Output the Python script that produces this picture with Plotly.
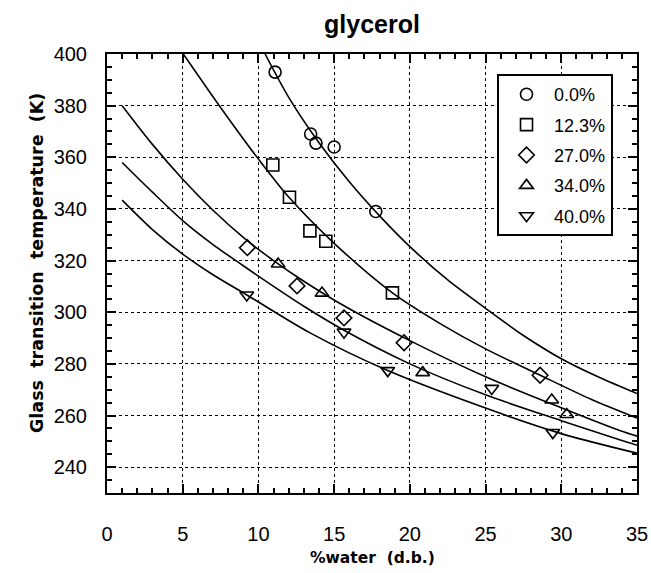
import plotly.graph_objects as go

# ---- data ----
series_names = ["0.0%", "12.3%", "27.0%", "34.0%", "40.0%"]
series_symbols = ["circle-open", "square-open", "diamond-open", "triangle-up-open", "triangle-down-open"]

pts_0_x = [11.1, 13.45, 13.8, 15.0, 17.75]
pts_0_y = [393.0, 369.0, 365.5, 364.0, 339.0]
pts_12_x = [10.95, 12.05, 13.4, 14.45, 18.85]
pts_12_y = [357.0, 344.5, 331.5, 327.5, 307.5]
pts_27_x = [9.27, 12.55, 15.65, 19.62, 28.6]
pts_27_y = [325.0, 310.2, 297.8, 288.2, 275.6]
pts_34_x = [11.3, 14.2, 20.85, 29.37, 30.36]
pts_34_y = [318.7, 307.4, 276.6, 266.0, 260.4]
pts_40_x = [9.23, 15.65, 18.54, 25.41, 29.44]
pts_40_y = [306.7, 292.3, 277.4, 270.5, 253.4]

# fitted curves, read as points along each drawn line
fit_0_x = [10.44, 12, 14, 16, 18, 20, 22.5, 25, 27.5, 30, 32.5, 35]
fit_0_y = [400.0, 383.2, 365.6, 350.5, 337.3, 325.4, 312.5, 301.5, 291.0, 282.0, 274.8, 268.5]
fit_12_x = [5.04, 7.5, 10, 12, 15, 18.85, 22, 25, 28.6, 32, 35]
fit_12_y = [400.0, 379.3, 359.3, 344.6, 326.7, 307.5, 295.6, 285.8, 275.6, 266.2, 259.0]
fit_27_x = [1, 3, 5, 7, 9, 11, 13, 15.65, 20, 25, 30, 33.9, 35]
fit_27_y = [380.0, 365.0, 351.5, 339.5, 329.0, 320.0, 312.0, 302.5, 289.0, 275.0, 263.0, 254.1, 252.0]
fit_34_x = [1, 3, 5, 7, 9, 11, 13, 15.65, 20, 25, 30, 33.9, 35]
fit_34_y = [358.0, 346.5, 335.5, 326.2, 318.0, 310.0, 302.3, 293.0, 280.0, 268.0, 258.0, 250.5, 248.5]
fit_40_x = [1, 3, 5, 7, 9.29, 13.41, 18.54, 25.41, 30, 33.9, 35]
fit_40_y = [343.4, 332.0, 322.5, 314.5, 306.5, 292.0, 277.4, 262.0, 253.0, 247.0, 245.5]

x_ticks = [0, 5, 10, 15, 20, 25, 30, 35]
y_ticks = [240, 260, 280, 300, 320, 340, 360, 380, 400]

points = [(pts_0_x, pts_0_y), (pts_12_x, pts_12_y), (pts_27_x, pts_27_y),
          (pts_34_x, pts_34_y), (pts_40_x, pts_40_y)]
fits = [(fit_0_x, fit_0_y), (fit_12_x, fit_12_y), (fit_27_x, fit_27_y),
        (fit_34_x, fit_34_y), (fit_40_x, fit_40_y)]

FONT = "Liberation Sans, Arial, sans-serif"
BOLD_WIDE = "DejaVu Sans, Liberation Sans, sans-serif"

fig = go.Figure()
for fx, fy in fits:
    fig.add_trace(go.Scatter(x=fx, y=fy, mode="lines", showlegend=False,
                             line=dict(color="black", width=1.6, shape="spline", smoothing=0.8),
                             hoverinfo="skip"))
for i, ((px, py), name, sym) in enumerate(zip(points, series_names, series_symbols)):
    fig.add_trace(go.Scatter(x=px, y=py, mode="markers", name=name,
                             legendgroup=f"g{i}",
                             marker=dict(symbol=sym, size=12, color="black",
                                         line=dict(color="black", width=1.6))))

axis_common = dict(
    showline=True, linecolor="black", linewidth=2, mirror="ticks",
    ticks="inside", ticklen=9, tickwidth=1.5, tickcolor="black",
    showgrid=True, gridcolor="black", gridwidth=1, griddash="dot",
    zeroline=False, automargin=False,
    tickfont=dict(family=FONT, size=20, color="black"),
)

fig.update_xaxes(range=[0, 35], tickvals=x_ticks, ticklabelstandoff=22,
                 minor=dict(dtick=1, ticks="inside", ticklen=5, tickcolor="black", showgrid=False),
                 **axis_common)
fig.update_yaxes(range=[230, 400], tickvals=y_ticks, ticklabelstandoff=14,
                 minor=dict(dtick=5, ticks="inside", ticklen=5, tickcolor="black", showgrid=False),
                 **axis_common)

fig.add_annotation(text="<b>%water  (d.b.)</b>", xref="paper", yref="paper",
                   x=0.5, y=(493 - 558) / 439, xanchor="center", yanchor="middle",
                   showarrow=False, font=dict(family=BOLD_WIDE, size=15.5, color="black"))
fig.add_annotation(text="<b>Glass  transition  temperature  (K)</b>", xref="paper", yref="paper",
                   x=(37 - 107) / 530, y=(493 - 263) / 439, xanchor="center", yanchor="middle",
                   textangle=-90, showarrow=False,
                   font=dict(family=BOLD_WIDE, size=17.5, color="black"))

fig.update_layout(
    width=651, height=573,
    margin=dict(l=107, r=14, t=54, b=80),
    paper_bgcolor="white", plot_bgcolor="white",
    title=dict(text="<b>glycerol</b>", x=(107 + 637) / 2 / 651, xanchor="center",
               y=1 - 24 / 573, yanchor="middle",
               font=dict(family=FONT, size=25, color="black")),
    legend=dict(x=(497 - 107) / 530, y=(493 - 74) / 439, xanchor="left", yanchor="top",
                bordercolor="black", borderwidth=2, bgcolor="white",
                font=dict(family=FONT, size=18, color="black"),
                tracegroupgap=4, itemwidth=45),
    showlegend=True,
)

fig.write_html("out.html")
